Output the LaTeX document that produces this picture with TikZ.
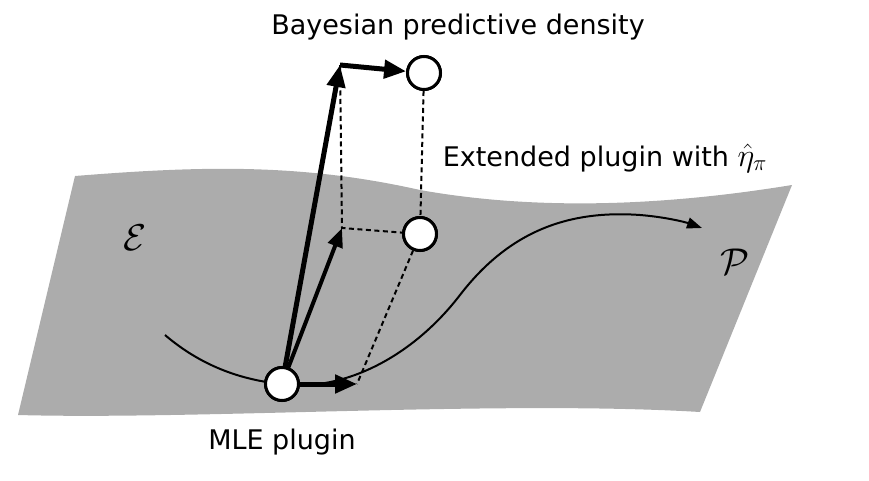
\documentclass[tikz,border=0pt]{standalone}
\usepackage{fontspec}
\setsansfont{DejaVu Sans}
\usetikzlibrary{arrows.meta}
\begin{document}
\begin{tikzpicture}[x=1pt,y=-1pt,
  pt/.style={circle,draw,line width=3pt,fill=white,minimum size=33pt,inner sep=0pt},
  lbl/.style={font=\sffamily\fontsize{27}{30}\selectfont},
  big/.style={line width=5pt,-{Triangle[length=22pt,width=18pt]}},
  med/.style={line width=4pt,-{Triangle[length=19pt,width=15pt]}},
  dot/.style={line width=2pt,dash pattern=on 5pt off 3.5pt}]
\useasboundingbox (0,0) rectangle (869,481);
\fill[gray!65] (75,176) .. controls (200,166) and (300,163) .. (420,190)
  .. controls (560,215) and (700,200) .. (792,185) -- (700,412)
  .. controls (500,400) and (200,420) .. (18,415) -- cycle;
\node[pt] (m) at (282,384) {};
\node[pt] (t) at (424,73) {};
\node[pt] (e) at (420,234) {};
\coordinate (a) at (340,65);
\coordinate (b) at (342,228);
\coordinate (c) at (357,384);
\draw[line width=2pt] (165,335) .. controls (200,365) and (240,380) .. (m.center)
  .. controls (340,392) and (410,360) .. (460,295)
  .. controls (510,230) and (570,210) .. (640,215);
\draw[line width=2pt,-{Triangle[length=15pt,width=11pt]}] (640,215) .. controls (665,217) and (685,222) .. (702,228);
\draw[dot] (a) -- (b) -- (e);
\draw[dot] (t) -- (e);
\draw[dot] (e) -- (c);
\draw[big] (m.center) -- (a);
\draw[big] (a) -- (t);
\draw[med] (m.center) -- (b);
\draw[big] (m.center) -- (c);
\node[pt] at (m) {};
\node[pt] at (t) {};
\node[pt] at (e) {};
\node[lbl] (bl) at (458,27) {Bayesian predictive density};
\node[lbl] (el) at (605,158) {Extended plugin with \scalebox{1.3}{$\hat{\eta}_\pi$}};
\node[lbl] (ml) at (282,442) {MLE plugin};
\node[font=\Huge] (E) at (135,238) {\scalebox{1.5}{$\mathcal{E}$}};
\node[font=\Huge] (P) at (735,262) {\scalebox{1.5}{$\mathcal{P}$}};
\end{tikzpicture}
\end{document}
